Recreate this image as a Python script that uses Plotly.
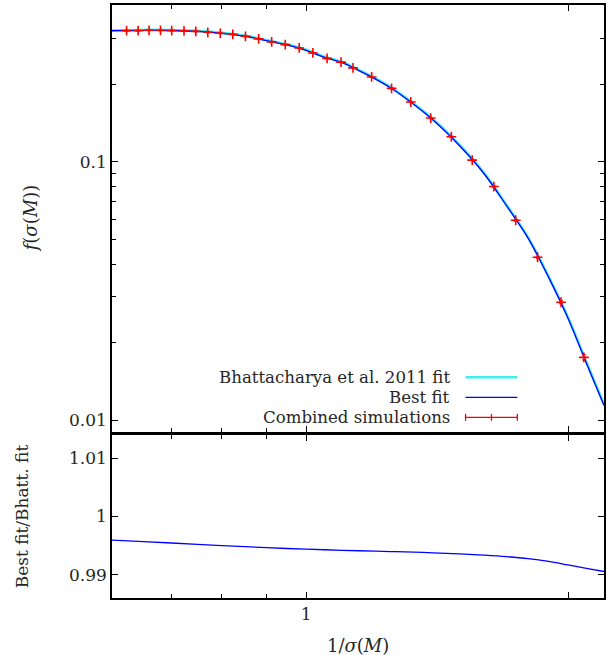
import math
import plotly.graph_objects as go

# ---- data ----
# combined simulations (points)
sim_x = [0.6215, 0.6408, 0.6597, 0.6799, 0.7004, 0.7236, 0.7466, 0.7706, 0.7965, 0.8234,
         0.8514, 0.8817, 0.9126, 0.9461, 0.9817, 1.0178, 1.0569, 1.0967, 1.1320, 1.1892,
         1.2536, 1.3190, 1.3906, 1.4685, 1.5520, 1.6435, 1.7414, 1.8452, 1.9634, 2.0857]
sim_y = [0.3220, 0.3220, 0.3228, 0.3228, 0.3220, 0.3211, 0.3199, 0.3171, 0.3143, 0.3115,
         0.3060, 0.2990, 0.2911, 0.2842, 0.2759, 0.2638, 0.2513, 0.2430, 0.2310, 0.2130,
         0.1924, 0.1704, 0.1477, 0.1250, 0.1015, 0.0802, 0.0594, 0.0427, 0.0286, 0.0175]
sim_err = [0.0015, 0.0015, 0.0015, 0.0015, 0.0015, 0.0015, 0.0015, 0.0015, 0.0015, 0.0015,
           0.0015, 0.0015, 0.0014, 0.0014, 0.0014, 0.0013, 0.0013, 0.0012, 0.0012, 0.0011,
           0.0010, 0.0009, 0.0008, 0.0007, 0.0006, 0.0005, 0.0005, 0.0004, 0.0004, 0.0004]

# fitted curves sampled along 1/sigma
fit_x = [0.598, 0.65, 0.70, 0.75, 0.80, 0.85, 0.90, 0.95, 1.00, 1.05, 1.10, 1.15,
         1.20, 1.25, 1.30, 1.40, 1.50, 1.60, 1.70, 1.80, 1.90, 2.00, 2.10, 2.20]
best_fit = [0.3215, 0.3225, 0.3222, 0.3196, 0.3140, 0.3063, 0.2945, 0.2833, 0.2698, 0.2536,
            0.2419, 0.2253, 0.2095, 0.1935, 0.1765, 0.1449, 0.1157, 0.0903, 0.0675, 0.0505,
            0.0357, 0.0248, 0.0166, 0.0114]
ratio = [0.99594, 0.99570, 0.99546, 0.99523, 0.99502, 0.99484, 0.99467, 0.99452, 0.99440,
         0.99430, 0.99421, 0.99413, 0.99406, 0.99399, 0.99393, 0.99377, 0.99358, 0.99337,
         0.99312, 0.99278, 0.99230, 0.99170, 0.99112, 0.99058]
bhatt_fit = [b / r for b, r in zip(best_fit, ratio)]

legend_labels = ["Bhattacharya et al. 2011 fit", "Best fit", "Combined simulations"]

FONT = "DejaVu Serif"
TXT = "#262626"

fig = go.Figure()
fig.add_trace(go.Scatter(x=fit_x, y=bhatt_fit, mode="lines", line=dict(color="#40EEF2", width=2.6, shape="spline"),
                         xaxis="x", yaxis="y", showlegend=False))
fig.add_trace(go.Scatter(x=fit_x, y=best_fit, mode="lines", line=dict(color="#0000FF", width=1.3, shape="spline"),
                         xaxis="x", yaxis="y", showlegend=False))
fig.add_trace(go.Scatter(x=sim_x, y=sim_y, mode="markers",
                         marker=dict(symbol="cross-thin", size=7, line=dict(color="#FF0000", width=1.6)),
                         error_y=dict(type="data", array=sim_err, color="#FF0000", thickness=1, width=2),
                         xaxis="x", yaxis="y", showlegend=False))
fig.add_trace(go.Scatter(x=fit_x, y=ratio, mode="lines", line=dict(color="#0000FF", width=1.3, shape="spline"),
                         xaxis="x2", yaxis="y2", showlegend=False))

W, H = 607, 655
ml, mr, mt, mb = 112, 1, 5, 57
pw, ph = W - ml - mr, H - mt - mb


def px(xp):
    return (xp - ml) / pw


def py(yp):
    return (H - mb - yp) / ph


axis_common = dict(showline=True, linecolor="black", linewidth=1.5, mirror="allticks",
                   ticks="inside", tickcolor="black", tickwidth=1, showgrid=False, zeroline=False,
                   tickfont=dict(family=FONT, size=17, color=TXT))
xr = [math.log10(0.598), math.log10(2.2)]

fig.update_layout(
    width=W, height=H, margin=dict(l=ml, r=mr, t=mt, b=mb),
    paper_bgcolor="white", plot_bgcolor="white", showlegend=False,
    xaxis=dict(axis_common, type="log", range=xr, domain=[0, 1], anchor="y",
               tickvals=[1, 2], ticktext=["", ""], ticklen=6, showticklabels=False,
               minor=dict(tickvals=[0.7, 0.8, 0.9], ticks="inside", ticklen=4, tickcolor="black", showgrid=False)),
    yaxis=dict(axis_common, type="log", range=[math.log10(0.00902), math.log10(0.4045)],
               domain=[py(431.7), 1], anchor="x",
               tickvals=[0.01, 0.1], ticktext=["0.01", "0.1"], ticklen=6,
               minor=dict(tickvals=[0.02, 0.03, 0.04, 0.05, 0.06, 0.07, 0.08, 0.09, 0.2, 0.3],
                          ticks="inside", ticklen=4, tickcolor="black", showgrid=False)),
    xaxis2=dict(axis_common, type="log", range=xr, domain=[0, 1], anchor="y2",
                tickvals=[1, 2], ticktext=["1", ""], ticklen=6,
                minor=dict(tickvals=[0.7, 0.8, 0.9], ticks="inside", ticklen=4, tickcolor="black", showgrid=False)),
    yaxis2=dict(axis_common, range=[0.98604, 1.01395], domain=[0, py(435)], anchor="x2",
                tickvals=[0.99, 1.0, 1.01], ticktext=["0.99", "1", "1.01"], ticklen=6),
)

ann = []
ann.append(dict(text="<i>f</i>(<i>σ</i>(<i>M</i>))", xref="paper", yref="paper", x=px(30), y=py(218),
                textangle=-90, showarrow=False, xanchor="center", yanchor="middle",
                font=dict(family=FONT, size=18, color=TXT)))
ann.append(dict(text="Best fit/Bhatt. fit", xref="paper", yref="paper", x=px(22), y=py(516),
                textangle=-90, showarrow=False, xanchor="center", yanchor="middle",
                font=dict(family=FONT, size=17, color=TXT)))
ann.append(dict(text="1/<i>σ</i>(<i>M</i>)", xref="paper", yref="paper", x=px(359), y=py(645),
                showarrow=False, xanchor="center", yanchor="middle",
                font=dict(family=FONT, size=18, color=TXT)))

rows = [377.3, 397.3, 417.3]
for lab, yy in zip(legend_labels, rows):
    ann.append(dict(text=lab, xref="paper", yref="paper", x=px(453.5), y=py(yy),
                    showarrow=False, xanchor="right", yanchor="middle",
                    font=dict(family=FONT, size=16.6, color=TXT)))
fig.update_layout(annotations=ann)

x0, x1, xm = px(467), px(519), px(493)
shapes = [
    dict(type="line", xref="paper", yref="paper", x0=x0, x1=x1, y0=py(rows[0]), y1=py(rows[0]),
         line=dict(color="#40EEF2", width=2.5)),
    dict(type="line", xref="paper", yref="paper", x0=x0, x1=x1, y0=py(rows[1]), y1=py(rows[1]),
         line=dict(color="#0000FF", width=1.3)),
    dict(type="line", xref="paper", yref="paper", x0=x0, x1=x1, y0=py(rows[2]), y1=py(rows[2]),
         line=dict(color="#FF0000", width=1.3)),
]
for xx in (x0, xm, x1):
    shapes.append(dict(type="line", xref="paper", yref="paper", x0=xx, x1=xx,
                       y0=py(rows[2] - 3.5), y1=py(rows[2] + 3.5), line=dict(color="#FF0000", width=1.3)))
fig.update_layout(shapes=shapes)

fig.write_html("out.html")
